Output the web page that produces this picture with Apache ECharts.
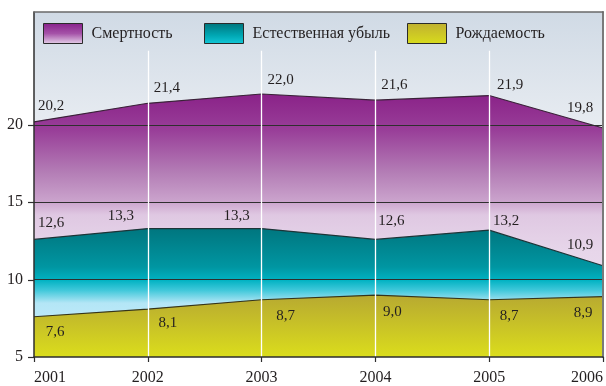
<!DOCTYPE html>
<html>
<head>
<meta charset="utf-8">
<script src="https://cdn.jsdelivr.net/npm/echarts@6/dist/echarts.min.js"></script>
<style>
  html, body { margin: 0; padding: 0; background: #ffffff; }
  #chart { width: 606px; height: 386px; }
</style>
</head>
<body>
<div id="chart"></div>
<script>
// Years along the horizontal axis
const years = ['2001', '2002', '2003', '2004', '2005', '2006'];
// Rates per 1000 population
const mortality = [20.2, 21.4, 22.0, 21.6, 21.9, 19.8];
const naturalDecrease = [12.6, 13.3, 13.3, 12.6, 13.2, 10.9];
const birthRate = [7.6, 8.1, 8.7, 9.0, 8.7, 8.9];
// Value-axis ticks
const yTicks = [5, 10, 15, 20];

const seriesNames = ['Смертность', 'Естественная убыль', 'Рождаемость'];

// Label nudges (px) so value labels sit clear of the boundary lines
const mortalityShift = [[17, -16], [19, -15], [19, -14], [19, -15], [21, -10], [-23, -20]];
const decreaseShift = [[17, -16], [-27, -13], [-25, -13], [16, -18], [17, -9], [-23, -21]];
const birthShift = [[21, 15], [20, 14], [24, 16], [17, 17], [20, 16], [-20, 16]];

const FONT = '"Liberation Serif", "DejaVu Serif", serif';
const TEXT = '#231f20';
const AXIS = '#2e2e2e';

function grad(stops) {
  return new echarts.graphic.LinearGradient(0, 0, 0, 1,
    stops.map(s => ({ offset: s[0], color: s[1] })));
}

const purpleFill = grad([[0, '#8a2288'], [0.14, '#993f99'], [0.3, '#b47eb6'], [0.41, '#cba4cd'], [0.46, '#dfc8e2'], [0.6, '#e7d6ea'], [1, '#efe4f1']]);
const tealFill = grad([[0, '#00767f'], [0.3, '#0096a2'], [0.4, '#00b2c2'], [0.48, '#40c8da'], [0.58, '#b4e6f6'], [1, '#d0f0ff']]);
const yellowFill = grad([[0, '#b7a931'], [1, '#dbdd1c']]);

const purpleIcon = grad([[0, '#87208a'], [0.5, '#a552a8'], [1, '#e6d2ea']]);
const tealIcon = grad([[0, '#00747c'], [0.6, '#00a8b4'], [1, '#14c8d8']]);
const yellowIcon = grad([[0, '#c0b030'], [1, '#d8dc1c']]);

function fmt(v) { return String(v.toFixed(1)).replace('.', ','); }

function labelled(values, shift) {
  return values.map((v, i) => ({ value: v, label: { offset: shift[i] } }));
}

const labelBase = {
  show: true,
  position: 'inside',
  color: TEXT,
  fontFamily: FONT,
  fontSize: 15,
  formatter: p => fmt(p.value)
};

function legendAt(left, name, icon) {
  return {
    left: left, top: 23, padding: 0,
    itemWidth: 39, itemHeight: 20,
    selectedMode: false,
    textStyle: { fontFamily: FONT, fontSize: 16, color: TEXT, padding: [0, 0, 0, 4] },
    data: [{ name: name, icon: 'rect', itemStyle: { color: icon, borderColor: '#2a2a2a', borderWidth: 1 } }]
  };
}

const chart = echarts.init(document.getElementById('chart'), null, { renderer: 'canvas' });

chart.setOption({
  animation: false,
  backgroundColor: '#ffffff',
  grid: {
    left: 34, right: 2, top: 12, bottom: 28,
    show: true,
    borderWidth: 0,
    backgroundColor: grad([[0, '#d0dae5'], [0.35, '#e9edf2'], [1, '#f2f4f7']])
  },
  legend: [
    legendAt(43, seriesNames[0], purpleIcon),
    legendAt(204, seriesNames[1], tealIcon),
    legendAt(407, seriesNames[2], yellowIcon)
  ],
  xAxis: [{
    type: 'category',
    data: years,
    boundaryGap: false,
    z: 10,
    axisLine: { lineStyle: { color: AXIS, width: 1.5 } },
    axisTick: { show: true, length: 5, lineStyle: { color: AXIS, width: 1.2 } },
    axisLabel: {
      color: TEXT, fontFamily: FONT, fontSize: 16, margin: 13,
      alignMinLabel: 'left', alignMaxLabel: 'right'
    },
    splitLine: { show: false }
  }, {
    type: 'category',
    data: years,
    boundaryGap: false,
    position: 'top',
    z: 10,
    axisLine: { lineStyle: { color: '#6a6a6a', width: 1.5 } },
    axisTick: { show: false },
    axisLabel: { show: false }
  }],
  yAxis: [{
    type: 'value',
    min: 5, max: 27.3, interval: 5,
    z: 10,
    axisLine: { show: true, lineStyle: { color: AXIS, width: 1.5 } },
    axisTick: { show: false },
    axisLabel: {
      color: TEXT, fontFamily: FONT, fontSize: 16, margin: 11,
      formatter: v => (yTicks.indexOf(v) >= 0 ? String(v) : '')
    },
    splitLine: { show: false }
  }, {
    type: 'value',
    min: 5, max: 27.3, interval: 5,
    position: 'right',
    z: 10,
    axisLine: { show: true, lineStyle: { color: '#7a7a7a', width: 2 } },
    axisTick: { show: false },
    axisLabel: { show: false },
    splitLine: { show: false }
  }],
  series: [
    {
      name: seriesNames[0],
      type: 'line',
      data: labelled(mortality, mortalityShift),
      symbol: 'circle', symbolSize: 1,
      itemStyle: { color: 'rgba(0,0,0,0)' },
      lineStyle: { color: '#3a2238', width: 1.2 },
      areaStyle: { color: purpleFill, opacity: 1 },
      label: labelBase
    },
    {
      name: seriesNames[1],
      type: 'line',
      data: labelled(naturalDecrease, decreaseShift),
      symbol: 'circle', symbolSize: 1,
      itemStyle: { color: 'rgba(0,0,0,0)' },
      lineStyle: { color: '#1d3437', width: 1.2 },
      areaStyle: { color: tealFill, opacity: 1 },
      label: labelBase
    },
    {
      name: seriesNames[2],
      type: 'line',
      data: labelled(birthRate, birthShift),
      symbol: 'circle', symbolSize: 1,
      itemStyle: { color: 'rgba(0,0,0,0)' },
      lineStyle: { color: '#35341a', width: 1.2 },
      areaStyle: { color: yellowFill, opacity: 1 },
      label: labelBase,
      markLine: {
        silent: true,
        symbol: 'none',
        label: { show: false },
        data: [
          ...yTicks.slice(1).map(t => ({ yAxis: t, lineStyle: { color: '#2f2f2f', width: 1.2, type: 'solid' } })),
          ...years.slice(1, -1).map(y => [
            { coord: [y, 24.8], lineStyle: { color: '#ffffff', width: 1.3, type: 'solid' } },
            { coord: [y, 5] }
          ])
        ]
      }
    }
  ]
});

// Outward tick marks on the value axis, only at the labelled values
const axisX = chart.convertToPixel({ xAxisIndex: 0 }, years[0]);
chart.setOption({
  graphic: yTicks.map(t => {
    const py = Math.round(chart.convertToPixel({ yAxisIndex: 0 }, t)) + 0.5;
    return {
      type: 'line', z: 20, silent: true,
      shape: { x1: axisX - 6, y1: py, x2: axisX, y2: py },
      style: { stroke: AXIS, lineWidth: 1.2 }
    };
  })
});
</script>
</body>
</html>
